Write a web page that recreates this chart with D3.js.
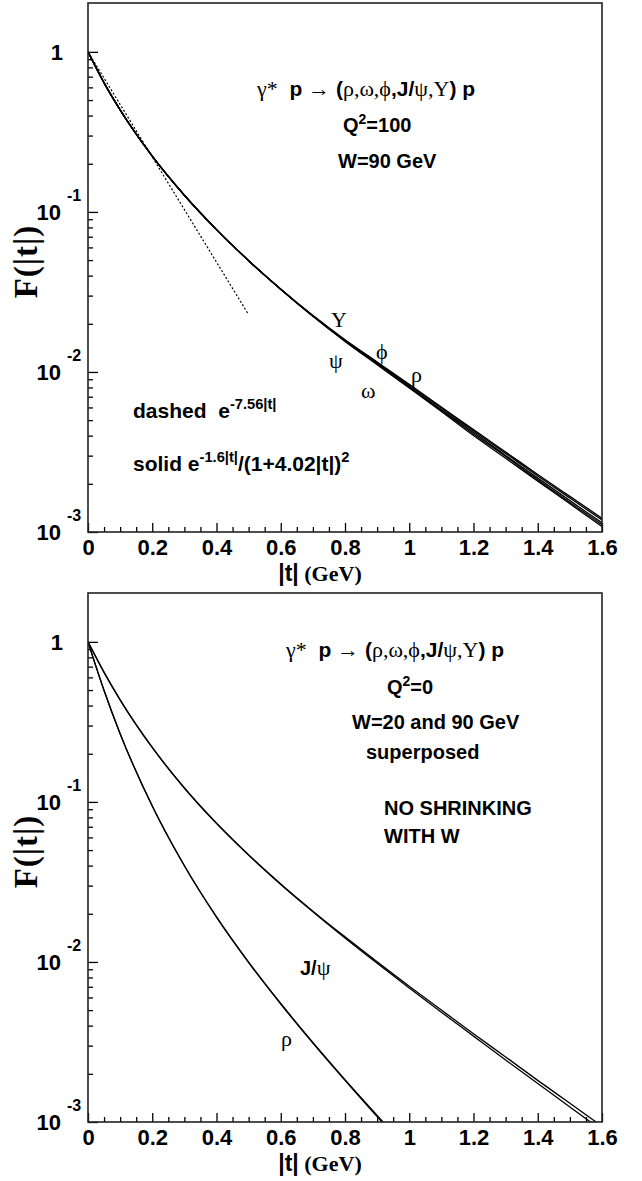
<!DOCTYPE html>
<html>
<head>
<meta charset="utf-8">
<script src="https://cdn.jsdelivr.net/npm/d3@7"></script>
<style>
  body { margin: 0; background: #fff; }
  svg text { white-space: pre; fill: #000; }
  .sans { font-family: "Liberation Sans", Arial, sans-serif; font-weight: bold; }
  .serif { font-family: "Liberation Serif", "DejaVu Serif", serif; }
</style>
</head>
<body>
<div id="chart"></div>
<script>
// ---- data ----
// top panel, Q^2=100, W=90 GeV
const tTop = [0, 0.05, 0.1, 0.2, 0.3, 0.4, 0.5, 0.6, 0.7, 0.8, 0.9, 1.0, 1.1, 1.2, 1.3, 1.4, 1.5, 1.6];
const upsTop   = [1, 0.64, 0.434, 0.223, 0.127, 0.0775, 0.0496, 0.0329, 0.02255, 0.0159, 0.01153, 0.00836, 0.00604, 0.00436, 0.00316, 0.00229, 0.00167, 0.00122];
const phiTop   = [1, 0.64, 0.434, 0.223, 0.127, 0.0775, 0.0496, 0.0329, 0.02249, 0.01583, 0.01144, 0.00826, 0.00596, 0.00428, 0.0031, 0.00224, 0.00163, 0.00119];
const rhoTop   = [1, 0.64, 0.434, 0.223, 0.127, 0.0775, 0.0496, 0.0329, 0.0224, 0.0157, 0.0113, 0.00812, 0.00583, 0.00418, 0.00301, 0.00217, 0.00157, 0.00114];
const psiTop   = [1, 0.64, 0.434, 0.223, 0.127, 0.0775, 0.0496, 0.0329, 0.02234, 0.01561, 0.0112, 0.00804, 0.00575, 0.0041, 0.00296, 0.00212, 0.00153, 0.00111];
const omegaTop = [1, 0.64, 0.434, 0.223, 0.127, 0.0775, 0.0496, 0.0329, 0.02227, 0.01552, 0.0111, 0.00794, 0.00567, 0.00401, 0.00289, 0.00208, 0.0015, 0.00108];
const tDashed = [0, 0.5];
const dashedTop = [1, 0.0228];

// bottom panel, Q^2=0, W=20 and 90 GeV
const tRho = [0, 0.05, 0.1, 0.2, 0.3, 0.4, 0.5, 0.6, 0.7, 0.8, 0.9, 0.95];
const rhoW20 = [1, 0.497, 0.267, 0.0942, 0.0399, 0.01914, 0.00998, 0.0055, 0.00314, 0.00184, 0.0011, 0.00085];
const rhoW90 = [1, 0.497, 0.267, 0.0942, 0.0399, 0.01905, 0.00992, 0.00546, 0.00311, 0.00182, 0.00108, 0.00084];
const tPsi = [0, 0.05, 0.1, 0.2, 0.3, 0.4, 0.5, 0.6, 0.7, 0.8, 0.9, 1.0, 1.1, 1.2, 1.3, 1.4, 1.5, 1.6];
const psiW20 = [1, 0.645, 0.4345, 0.2188, 0.1222, 0.0735, 0.0466, 0.0305, 0.0206, 0.0141, 0.0098, 0.00687, 0.00485, 0.00344, 0.00244, 0.00174, 0.00124, 0.000887];
const psiW90 = [1, 0.645, 0.4345, 0.2188, 0.1222, 0.0735, 0.0466, 0.03071, 0.02077, 0.01435, 0.01001, 0.00705, 0.005005, 0.00356, 0.00255, 0.00182, 0.00131, 0.00094];

// axis ticks
const xMajor = [0, 0.2, 0.4, 0.6, 0.8, 1.0, 1.2, 1.4, 1.6];
const yDecades = [1, 0.1, 0.01, 0.001];
const yExponents = ["", "-1", "-2", "-3"];

const width = 642, height = 1181;
const svg = d3.select("#chart").append("svg")
    .attr("width", width)
    .attr("height", height);

// rich text: parts are [string, kind], kind = b (bold sans), g (serif greek), s (superscript)
function rich(g, x, y, parts, size = 20, gsize = size) {
    let t = g.append("text").attr("x", x).attr("y", y).attr("font-size", size);
    let raised = false;
    parts.forEach(([str, kind]) => {
        let sp = t.append("tspan").text(str);
        if (kind === "s") {
            sp.attr("class", "sans").attr("font-size", size * 0.7);
            if (!raised) sp.attr("dy", -size * 0.42);
            raised = true;
        } else {
            sp.attr("class", kind === "g" ? "serif" : "sans");
            if (kind === "g") sp.attr("font-size", gsize);
            if (raised) sp.attr("dy", size * 0.42);
            raised = false;
        }
    });
    return t;
}

function makePanel(id, y0, y1) {
    let p = {};
    p.g = svg.append("g");
    p.x = d3.scaleLinear().domain([0, 1.6]).range([88, 602]);
    p.y = d3.scaleLog().domain([1e-3, 2.02]).range([y1, y0]);

    p.g.append("clipPath").attr("id", "clip" + id)
        .append("rect").attr("x", 88).attr("y", y0).attr("width", 514).attr("height", y1 - y0);
    p.plot = p.g.append("g").attr("clip-path", `url(#clip${id})`);

    // x axis ticks (pointing up), minor every 0.05
    let xMinor = d3.range(0, 1.601, 0.05).filter(v => Math.abs(v / 0.2 - Math.round(v / 0.2)) > 1e-6);
    p.g.append("g").attr("transform", `translate(0,${y1})`)
        .call(d3.axisBottom(p.x).tickValues(xMinor).tickSize(-5).tickFormat(""))
        .call(a => a.select(".domain").remove());
    p.g.append("g").attr("transform", `translate(0,${y1})`)
        .call(d3.axisBottom(p.x).tickValues(xMajor).tickSize(-9).tickPadding(7).tickFormat(d3.format("~g")))
        .call(a => a.select(".domain").remove())
        .call(a => a.selectAll("text").attr("class", "sans").attr("font-size", 22).attr("fill", "#000"));

    // y axis ticks (pointing right)
    let yMinor = [];
    yDecades.forEach(d => { for (let k = 2; k <= 9; k++) if (d * k < 1.01) yMinor.push(d * k); });
    p.g.append("g").attr("transform", "translate(88,0)")
        .call(d3.axisLeft(p.y).tickValues(yMinor).tickSize(-5).tickFormat(""))
        .call(a => a.select(".domain").remove());
    p.g.append("g").attr("transform", "translate(88,0)")
        .call(d3.axisLeft(p.y).tickValues(yDecades).tickSize(-10).tickFormat(""))
        .call(a => a.select(".domain").remove());
    p.g.selectAll(".tick line").attr("stroke", "#000").attr("stroke-width", 1.3);

    // decade labels
    yDecades.forEach((d, i) => {
        let yy = p.y(d);
        if (yExponents[i] === "") {
            p.g.append("text").attr("class", "sans").attr("font-size", 22)
                .attr("x", 63).attr("y", yy + 8).attr("text-anchor", "end").text("1");
        } else {
            p.g.append("text").attr("class", "sans").attr("font-size", 22)
                .attr("x", 61).attr("y", yy + 8).attr("text-anchor", "end").text("10");
            p.g.append("text").attr("class", "sans").attr("font-size", 16)
                .attr("x", 67).attr("y", yy - 11).text(yExponents[i]);
        }
    });

    // frame
    p.g.append("rect").attr("x", 88).attr("y", y0).attr("width", 514).attr("height", y1 - y0)
        .attr("fill", "none").attr("stroke", "#222").attr("stroke-width", 1.6);

    // axis titles
    let xt = p.g.append("text").attr("x", 320).attr("y", y1 + 49).attr("text-anchor", "middle");
    xt.append("tspan").attr("class", "sans").attr("font-size", 23).text("|t|");
    xt.append("tspan").attr("class", "serif").attr("font-weight", "bold").attr("font-size", 22).text(" (GeV)");
    p.g.append("text").attr("class", "serif").attr("font-weight", "bold").attr("font-size", 33)
        .attr("letter-spacing", 1)
        .attr("text-anchor", "middle")
        .attr("transform", `translate(37,${(y0 + y1) / 2 - 6}) rotate(-90)`)
        .text("F(|t|)");
    return p;
}

function drawCurve(p, ts, vals, opts = {}) {
    let line = d3.line()
        .x((d, i) => p.x(ts[i]))
        .y(d => p.y(d))
        .curve(d3.curveMonotoneX);
    let path = p.plot.append("path").datum(vals)
        .attr("d", line)
        .attr("fill", "none")
        .attr("stroke", "#000")
        .attr("stroke-width", opts.w || 1.4);
    if (opts.dash) path.attr("stroke-dasharray", opts.dash);
    return path;
}

function greek(g, s, x, y) {
    g.append("text").attr("class", "serif").attr("font-size", 22).attr("x", x).attr("y", y).text(s);
}

const titleParts = [["γ*", "g"], ["  p ", "b"], ["→", "g"], [" (", "b"], ["ρ,ω,ϕ", "g"], [",J/", "b"], ["ψ,Υ", "g"], [") p", "b"]];

// ---- top panel ----
const topPanel = makePanel("a", 3, 532);
[upsTop, phiTop, rhoTop, psiTop, omegaTop].forEach(v => drawCurve(topPanel, tTop, v, {w: 1.3}));
drawCurve(topPanel, tDashed, dashedTop, {w: 1.2, dash: "2,2"});

rich(topPanel.g, 257, 96, titleParts, 21, 22);
rich(topPanel.g, 343, 132, [["Q", "b"], ["2", "s"], ["=100", "b"]]);
rich(topPanel.g, 338, 168, [["W=90 GeV", "b"]]);
rich(topPanel.g, 133, 418, [["dashed  e", "b"], ["-7.56|t|", "s"]], 21);
rich(topPanel.g, 133, 471, [["solid e", "b"], ["-1.6|t|", "s"], ["/(1+4.02|t|)", "b"], ["2", "s"]], 21);

const topLabels = [["Υ", 331, 327], ["ψ", 329, 368], ["ϕ", 376, 359], ["ω", 361, 398], ["ρ", 411, 382]];
topLabels.forEach(([s, x, y]) => greek(topPanel.g, s, x, y));

// ---- bottom panel ----
const botPanel = makePanel("b", 593, 1122);
[rhoW20, rhoW90].forEach(v => drawCurve(botPanel, tRho, v, {w: 1.3}));
[psiW20, psiW90].forEach(v => drawCurve(botPanel, tPsi, v, {w: 1.3}));

rich(botPanel.g, 286, 657, titleParts, 21, 22);
rich(botPanel.g, 387, 694, [["Q", "b"], ["2", "s"], ["=0", "b"]]);
rich(botPanel.g, 352, 729, [["W=20 and 90 GeV", "b"]]);
rich(botPanel.g, 366, 759, [["superposed", "b"]]);
rich(botPanel.g, 384, 815, [["NO SHRINKING", "b"]]);
rich(botPanel.g, 384, 843, [["WITH W", "b"]]);
rich(botPanel.g, 300, 975, [["J/", "b"], ["ψ", "g"]], 20, 22);
greek(botPanel.g, "ρ", 281, 1046);
</script>
</body>
</html>
